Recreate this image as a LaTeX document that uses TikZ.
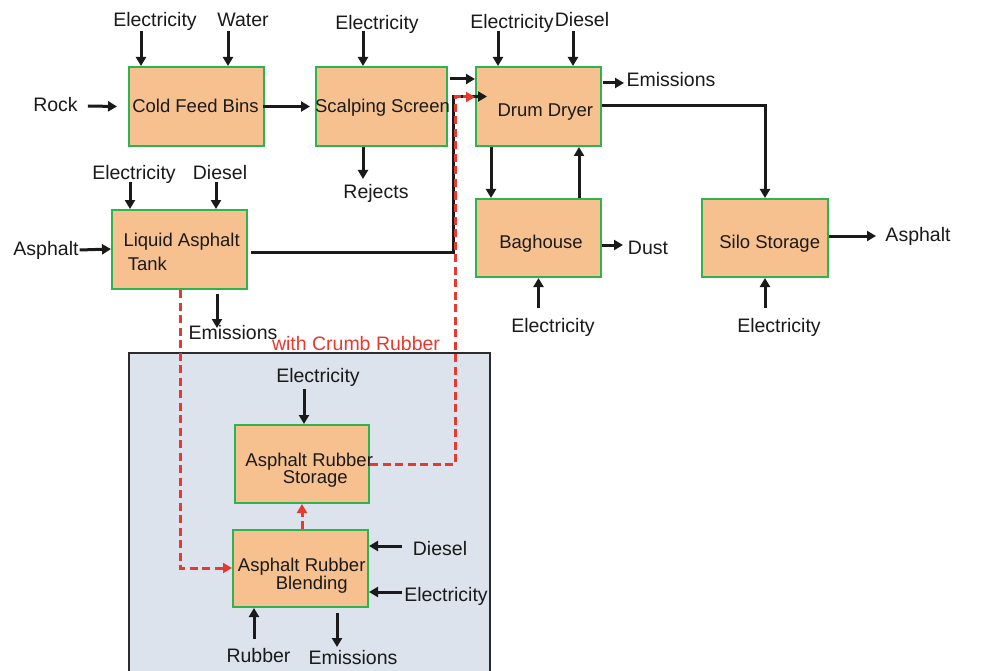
\documentclass[tikz,border=0pt]{standalone}
\usepackage{fontspec}
\setmainfont{Liberation Sans}
\usetikzlibrary{arrows.meta,calc}
\definecolor{peach}{HTML}{F7C18F}
\definecolor{boxgreen}{HTML}{2EB34F}
\definecolor{panelfill}{HTML}{DCE3EC}
\definecolor{panelline}{HTML}{2B2B2B}
\definecolor{rred}{HTML}{E43A2F}
\definecolor{ink}{HTML}{1A1A1A}
\begin{document}
\begin{tikzpicture}[x=1pt,y=-1pt,
 proc/.style={draw=boxgreen, line width=2pt, fill=peach, inner sep=0pt, rectangle},
 lbl/.style={font=\fontsize{19.5}{22}\selectfont, text=ink, inner sep=0pt, text height=14pt, text depth=0pt},
 btxt/.style={font=\fontsize{18.5}{20}\selectfont, text=ink, inner sep=0pt, text height=13.2pt, text depth=0pt},
 rlbl/.style={lbl, text=rred},
 arr/.style={draw=ink, line width=3pt, -{Triangle[length=9pt,width=10pt]}},
 rarr/.style={draw=rred, line width=3pt, dash pattern=on 8pt off 4.5pt, -{Triangle[length=9pt,width=10pt]}},
 rdash/.style={draw=rred, line width=3pt, dash pattern=on 8pt off 4.5pt}
]
\useasboundingbox (0,0) rectangle (995,671);
\fill[white] (0,0) rectangle (995,671);
% grey region
\begin{scope}
\clip (0,0) rectangle (995,671);
\draw[fill=panelfill, draw=panelline, line width=2pt] (129,353) rectangle (490,690);
\end{scope}
% process boxes
\node[proc, minimum width=135pt, minimum height=79pt] (cfb) at (196.5,106.5) {};
\node[proc, minimum width=131pt, minimum height=79pt] (ssc) at (381.5,106.5) {};
\node[proc, minimum width=125pt, minimum height=79pt] (dd) at (538.5,106.5) {};
\node[proc, minimum width=135pt, minimum height=79pt] (lat) at (179.5,249.5) {};
\node[proc, minimum width=125pt, minimum height=78pt] (bh) at (538.5,238) {};
\node[proc, minimum width=126pt, minimum height=78pt] (silo) at (765,238) {};
\node[proc, minimum width=134pt, minimum height=78pt] (ars) at (302,464) {};
\node[proc, minimum width=135pt, minimum height=77pt] (arb) at (300.5,568.5) {};
% box texts
\node[btxt] (cfbt) at (195.5,106.3) {Cold Feed Bins};
\node[btxt] (ssct) at (382.5,105.7) {Scalping Screen};
\node[btxt] (ddt) at (545.3,110.3) {Drum Dryer};
\node[btxt, anchor=west] (latt1) at (123.3,239.5) {Liquid Asphalt};
\node[btxt, anchor=west] (latt2) at (127.7,264.2) {Tank};
\node[btxt] (bht) at (541,242.2) {Baghouse};
\node[btxt] (silot) at (769.7,242.2) {Silo Storage};
\node[btxt] (arst1) at (309.2,459.5) {Asphalt Rubber};
\node[btxt] (arst2) at (315.3,477) {Storage};
\node[btxt] (arbt1) at (301.7,565.3) {Asphalt Rubber};
\node[btxt] (arbt2) at (311.8,583) {Blending};
% labels
\node[lbl] (e1) at (155,19.5) {Electricity};
\node[lbl] (w1) at (243,19.5) {Water};
\node[lbl] (e2) at (377,22.5) {Electricity};
\node[lbl] (rock) at (55.5,105) {Rock};
\node[lbl] (rej) at (376,191.7) {Rejects};
\node[lbl] (e3) at (134,172.5) {Electricity};
\node[lbl] (d1) at (220,172.5) {Diesel};
\node[lbl] (asph1) at (46,248) {Asphalt};
\node[lbl] (em1) at (233,332) {Emissions};
\node[lbl] (e4) at (512,22) {Electricity};
\node[lbl] (d2) at (582,19.5) {Diesel};
\node[lbl] (em2) at (671,79.7) {Emissions};
\node[lbl] (dust) at (648,247) {Dust};
\node[lbl] (e5) at (553,325.5) {Electricity};
\node[lbl] (e6) at (779,325.5) {Electricity};
\node[lbl] (asph2) at (918,234.3) {Asphalt};
\node[rlbl] (crumb) at (356,343.3) {with Crumb Rubber};
\node[lbl] (e7) at (318,375.5) {Electricity};
\node[lbl] (d3) at (440,548.3) {Diesel};
\node[lbl] (e8) at (446,594) {Electricity};
\node[lbl] (rub) at (258.5,655.3) {Rubber};
\node[lbl] (em3) at (353,657) {Emissions};
% cold feed bins
\draw[arr] ($(cfb.north west)+(13,-35)$) -- ($(cfb.north west)+(13,0)$);
\draw[arr] ($(cfb.north west)+(100,-35)$) -- ($(cfb.north west)+(100,0)$);
\draw[arr] ($(rock.east)+(10,1)$) -- ($(cfb.west)+(-11,0)$);
\draw[arr] ($(cfb.east)+(-2,0)$) -- ($(ssc.west)+(-5,0)$);
% scalping screen
\draw[arr] ($(ssc.north west)+(48,-35)$) -- ($(ssc.north west)+(48,0)$);
\draw[arr] ($(ssc.south west)+(48,0)$) -- ($(ssc.south west)+(48,32)$);
\draw[arr] ($(ssc.north east)+(2,13)$) -- ($(dd.north west)+(0,13)$);
% drum dryer
\draw[arr] ($(dd.north west)+(23,-35)$) -- ($(dd.north west)+(23,0)$);
\draw[arr] ($(dd.north west)+(98,-35)$) -- ($(dd.north west)+(98,0)$);
\draw[arr] ($(dd.north east)+(1,17)$) -- ($(dd.north east)+(22,17)$);
\draw[arr] ($(dd.north east)+(0,39.5)$) -| (silo.north);
\draw[arr] ($(dd.south west)+(16,0)$) -- ($(bh.north west)+(16,0)$);
\draw[arr] ($(bh.north west)+(104,0)$) -- ($(dd.south west)+(104,0)$);
% baghouse
\draw[arr] ($(bh.north east)+(0,47)$) -- ($(bh.north east)+(21,47)$);
\draw[arr] ($(bh.south)+(0,30)$) -- (bh.south);
% silo
\draw[arr] ($(silo.south)+(0,30)$) -- (silo.south);
\draw[arr] ($(silo.north east)+(0,38)$) -- ($(silo.north east)+(47,38)$);
% liquid asphalt tank
\draw[arr] ($(lat.north west)+(19,-27)$) -- ($(lat.north west)+(19,0)$);
\draw[arr] ($(lat.north west)+(105,-27)$) -- ($(lat.north west)+(105,0)$);
\draw[arr] ($(asph1.east)+(1,2)$) -- ($(lat.north west)+(0,40)$);
\draw[arr] ($(lat.south west)+(106,4)$) -- ($(lat.south west)+(106,38)$);
\draw[arr] ($(lat.north east)+(3,43)$) -| ($(dd.north west)+(-22,30.5)$) -- ($(dd.north west)+(12,30.5)$);
% crumb rubber route
\draw[rdash] ($(lat.south west)+(69,0)$) |- ($(arb.north west)+(-10,39)$);
\draw[rarr] ($(arb.north west)+(-12,39)$) -- ($(arb.north west)+(0,39)$);
\draw[rarr] (arb.north -| ars.south) -- (ars.south);
\draw[rdash] ($(ars.north east)+(0,40.5)$) -| ($(dd.north west)+(-20,31)$) -- ($(dd.north west)+(-10,31)$);
\draw[rarr] ($(dd.north west)+(-12,31)$) -- ($(dd.north west)+(0,31)$);
% asphalt rubber storage & blending
\draw[arr] ($(ars.north)+(2,-35)$) -- ($(ars.north)+(2,0)$);
\draw[arr] ($(arb.north east)+(33,17)$) -- ($(arb.north east)+(0,17)$);
\draw[arr] ($(arb.north east)+(33,63)$) -- ($(arb.north east)+(0,63)$);
\draw[arr] ($(arb.south west)+(22,31)$) -- ($(arb.south west)+(22,0)$);
\draw[arr] ($(arb.south west)+(105,5)$) -- ($(arb.south west)+(105,39)$);
\end{tikzpicture}
\end{document}
